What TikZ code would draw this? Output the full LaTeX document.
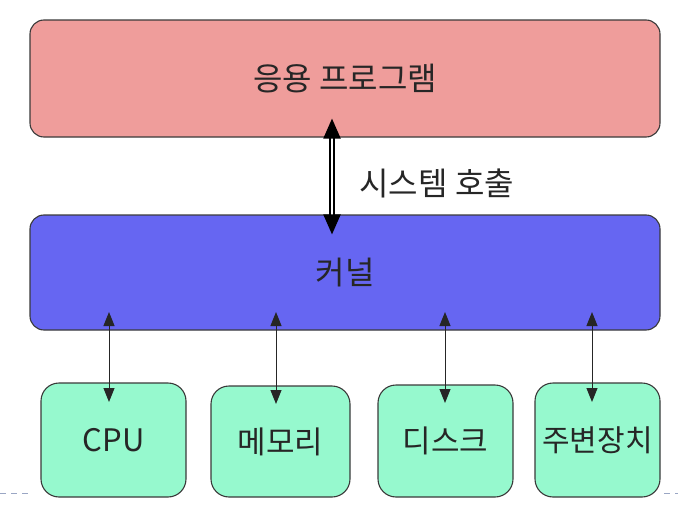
\documentclass[tikz,border=0pt]{standalone}
\usepackage{fontspec}
\setmainfont{Noto Sans CJK KR}
\usetikzlibrary{arrows.meta,calc}
\definecolor{appc}{HTML}{EF9D9B}
\definecolor{kerc}{HTML}{6666F2}
\definecolor{devc}{HTML}{96F9CE}
\definecolor{edgec}{HTML}{3A3A3A}
\definecolor{dashc}{HTML}{9AA6C4}
\tikzset{
  box/.style={draw=edgec, line width=1.1pt, rounded corners=14pt, inner sep=0pt,
    font=\fontsize{32}{34}\selectfont, text=black!85},
  devbox/.style={box, fill=devc, rounded corners=18pt, font=\fontsize{31}{33}\selectfont},
  sysarrow/.style={double=white, line width=2pt, double distance=1.2pt, draw=black,
    {Triangle[length=20pt,width=17pt]}-{Triangle[length=20pt,width=17pt]}},
  iarrow/.style={draw=black!85, line width=1pt,
    {Triangle[length=14pt,width=11pt]}-{Triangle[length=14pt,width=11pt]}},
  slidedash/.style={draw=dashc, line width=1pt, dash pattern=on 6pt off 5pt}
}
\begin{document}
\begin{tikzpicture}[x=1pt,y=-1pt]
\useasboundingbox (0,0) rectangle (678,506);
% application
\node[box, fill=appc, minimum width=630pt, minimum height=117pt] (app) at (345,78.5) {응용 프로그램};
% kernel
\node[box, fill=kerc, minimum width=630pt, minimum height=115pt] (ker) at (345,272.5) {커널};
% devices
\node[devbox, minimum width=145pt, minimum height=114pt] (cpu) at (113.5,440) {CPU};
\node[devbox, minimum width=139pt, minimum height=111pt] (mem) at (280.5,441.5) {메모리};
\node[devbox, minimum width=135pt, minimum height=112pt] (disk) at (445.5,441) {디스크};
\node[devbox, minimum width=125pt, minimum height=114pt, font=\fontsize{30}{32}\selectfont] (per) at (597.5,440) {주변장치};
% system call arrow
\coordinate (sc1) at ($(app.south)+(-13,-19)$);
\coordinate (sc2) at ($(ker.north)+(-13,20)$);
\draw[sysarrow] (sc1) -- (sc2);
\node[font=\fontsize{32}{34}\selectfont, text=black!85, anchor=west] (sclabel) at (356,183) {시스템 호출};
% kernel-device arrows
\coordinate (k1) at (109,312); \coordinate (d1) at (109,402);
\coordinate (k2) at (276,312); \coordinate (d2) at (276,404);
\coordinate (k3) at (445,312); \coordinate (d3) at (445,403);
\coordinate (k4) at (592,312); \coordinate (d4) at (592,402);
\draw[iarrow] (k1) -- (d1);
\draw[iarrow] (k2) -- (d2);
\draw[iarrow] (k3) -- (d3);
\draw[iarrow] (k4) -- (d4);
% slide decoration
\coordinate (dl1) at (0,493); \coordinate (dl2) at (32,493);
\coordinate (dr1) at (664,493); \coordinate (dr2) at (678,493);
\draw[slidedash] (dl1) -- (dl2);
\draw[slidedash] (dr1) -- (dr2);
\end{tikzpicture}
\end{document}
